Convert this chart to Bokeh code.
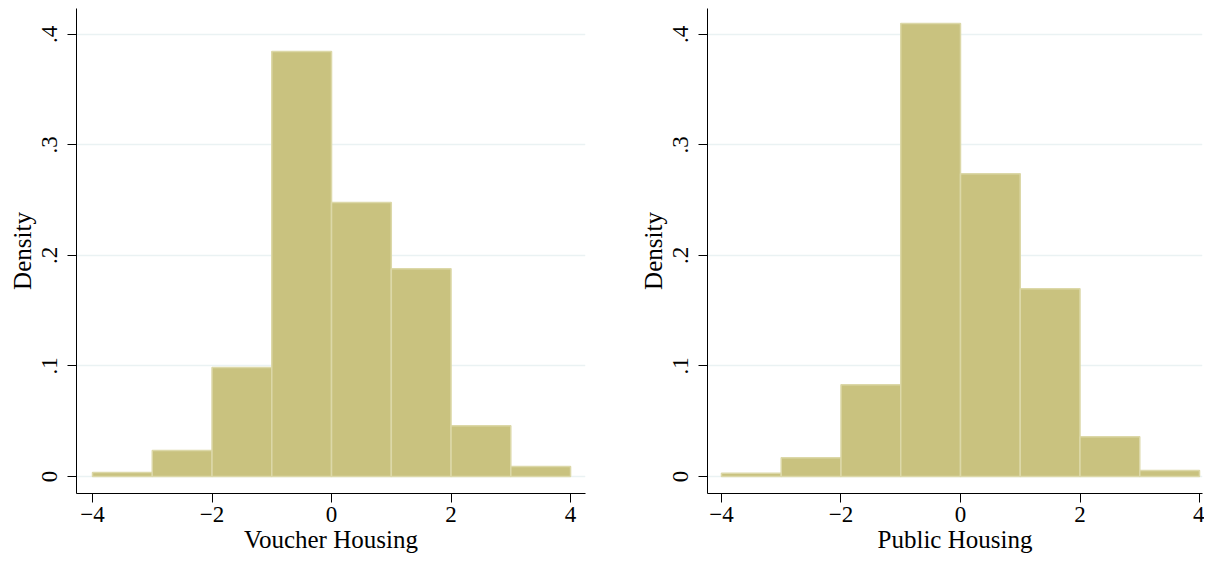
from bokeh.plotting import figure
from bokeh.layouts import row
from bokeh.models import Range1d, FixedTicker, CustomJSTickFormatter
from bokeh.embed import file_html
from bokeh.resources import INLINE

bin_edges = [-4, -3, -2, -1, 0, 1, 2, 3, 4]
voucher_density = [0.0036, 0.0235, 0.0986, 0.3846, 0.248, 0.188, 0.046, 0.009]
public_density = [0.003, 0.017, 0.083, 0.410, 0.274, 0.170, 0.036, 0.0055]
x_ticks = [-4, -2, 0, 2, 4]
y_ticks = [0, 0.1, 0.2, 0.3, 0.4]

FONT = "Liberation Serif"
FILL = "#C9C27F"
EDGE = "#DCD8A8"

yfmt = CustomJSTickFormatter(code="""
if (Math.abs(tick) < 1e-9) { return '0'; }
return tick.toFixed(1).replace(/^0/, '');
""")
xfmt = CustomJSTickFormatter(code="""
if (tick < 0) { return '\\u2212' + Math.abs(tick); }
return String(tick);
""")


def make(values, label, width, xr, mbl, mbr):
    p = figure(width=width, height=558, output_backend="svg", toolbar_location=None,
               x_range=Range1d(*xr), y_range=Range1d(-0.0154, 0.4235),
               min_border_left=mbl, min_border_right=mbr, min_border_top=8,
               min_border_bottom=65)
    p.outline_line_color = None
    p.xgrid.grid_line_color = None
    p.ygrid.grid_line_color = "#EAF2F3"
    p.ygrid.grid_line_width = 1.5
    p.ygrid.ticker = FixedTicker(ticks=y_ticks)
    p.quad(left=bin_edges[:-1], right=bin_edges[1:], bottom=0, top=values,
           fill_color=FILL, line_color=EDGE, line_width=1.5)
    for ax in (p.xaxis[0], p.yaxis[0]):
        ax.axis_line_color = "black"
        ax.axis_line_width = 1
        ax.major_tick_line_color = "black"
        ax.major_tick_out = 9
        ax.major_tick_in = 0
        ax.minor_tick_line_color = None
        ax.major_label_text_font = FONT
        ax.major_label_text_font_size = "23px"
        ax.major_label_text_color = "black"
        ax.axis_label_text_font = FONT
        ax.axis_label_text_font_size = "25px"
        ax.axis_label_text_font_style = "normal"
        ax.axis_label_text_color = "black"
    p.xaxis.ticker = FixedTicker(ticks=x_ticks)
    p.xaxis.formatter = xfmt
    p.xaxis.axis_label = label
    p.xaxis.major_label_standoff = 4
    p.xaxis.axis_label_standoff = 1
    p.yaxis.ticker = FixedTicker(ticks=y_ticks)
    p.yaxis.formatter = yfmt
    p.yaxis.major_label_orientation = "vertical"
    p.yaxis.axis_label = "Density"
    p.yaxis.major_label_standoff = 10
    p.yaxis.axis_label_standoff = 4
    return p


p1 = make(voucher_density, "Voucher Housing", 628, (-4.268, 4.25), 76, 43)
p2 = make(public_density, "Public Housing", 576, (-4.234, 4.05), 79, 2)
layout = row(p1, p2)
open("out.html", "w").write(file_html(layout, INLINE))
